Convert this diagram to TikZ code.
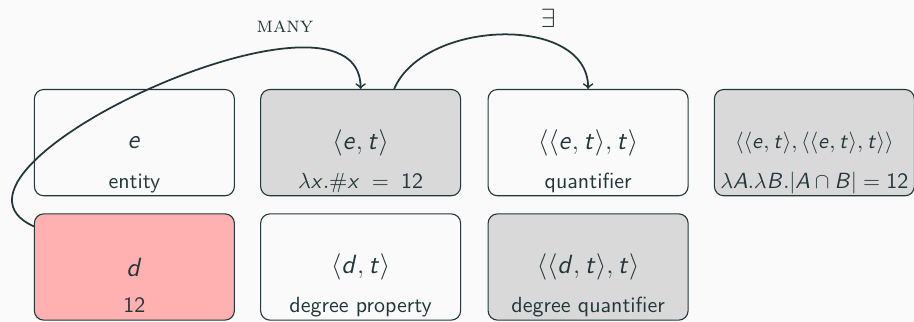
\documentclass[tikz,border=0pt]{standalone}
\usepackage{tikz}
\usetikzlibrary{arrows, positioning}

% sans letters in math, as on the slides
\DeclareSymbolFont{sfletters}{OT1}{cmss}{m}{sl}
\DeclareSymbolFont{sfdigits}{OT1}{cmss}{m}{n}
\DeclareMathSymbol{e}{\mathalpha}{sfletters}{`e}
\DeclareMathSymbol{t}{\mathalpha}{sfletters}{`t}
\DeclareMathSymbol{d}{\mathalpha}{sfletters}{`d}
\DeclareMathSymbol{x}{\mathalpha}{sfletters}{`x}
\DeclareMathSymbol{A}{\mathalpha}{sfletters}{`A}
\DeclareMathSymbol{B}{\mathalpha}{sfletters}{`B}
\DeclareMathSymbol{1}{\mathalpha}{sfdigits}{`1}
\DeclareMathSymbol{2}{\mathalpha}{sfdigits}{`2}
\renewcommand{\familydefault}{\sfdefault}

\definecolor{fgcol}{HTML}{23373B}
\definecolor{bgcol}{HTML}{FAFAFA}
\definecolor{shade}{HTML}{D9D9D9}
\definecolor{hotred}{HTML}{FFB0B0}

\begin{document}
\begin{tikzpicture}[
    box/.style={rectangle, draw=fgcol, line width=0.5pt, rounded corners=0.15cm, minimum width=3.2cm, minimum height=1.7cm, inner sep=0pt, text=fgcol, font=\large},
    plain/.style={box, fill=bgcol},
    shaded/.style={box, fill=shade},
    hotbox/.style={box, fill=hotred},
    caption/.style={anchor=base, inner sep=0pt, text=fgcol, font=\normalsize},
    tag/.style={text=fgcol, font=\normalsize},
    arrow/.style={thick, ->, >=to, color=fgcol}
]

\path[use as bounding box, fill=bgcol] (0,0) rectangle (14.624,5.152);

\node[plain] (e) at (2.15, 2.87) {$e$};
\node[shaded] (et) at (5.77, 2.87) {$\langle e, t\rangle$};
\node[plain] (q) at (9.41, 2.87) {$\langle\langle e, t\rangle, t\rangle$};
\node[shaded, font=\normalsize] (gq) at (13.03, 2.87) {$\langle\langle e, t\rangle, \langle\langle e, t\rangle, t\rangle\rangle$};

\node[caption] (e-cap) at ([yshift=-0.73cm]e.center) {entity};
\node[caption] (et-cap) at ([yshift=-0.73cm]et.center) {$\lambda x.\#x \;=\; 12$};
\node[caption] (q-cap) at ([yshift=-0.73cm]q.center) {quantifier};
\node[caption] (gq-cap) at ([yshift=-0.73cm]gq.center) {$\lambda A.\lambda B.|A\cap B| = 12$};

\node[hotbox] (d) at (2.15, 0.88) {$d$};
\node[plain] (dt) at (5.77, 0.88) {$\langle d, t\rangle$};
\node[shaded] (dq) at (9.41, 0.88) {$\langle\langle d, t\rangle, t\rangle$};

\node[caption] (d-cap) at ([yshift=-0.73cm]d.center) {12};
\node[caption] (dt-cap) at ([yshift=-0.73cm]dt.center) {degree property};
\node[caption] (dq-cap) at ([yshift=-0.73cm]dq.center) {degree quantifier};

\draw[arrow] (d.158) .. controls +(-2.0,0.9) and +(0,2.05) .. (et.north);
\draw[arrow] (et.58) .. controls +(0.48,1.12) and +(0,1.2) .. (q.north);

\node[tag, font=\rmfamily\scshape] (many) at (4.56, 4.72) {many};
\node[tag, font=\large] (exists) at (8.77, 4.86) {$\exists$};

\end{tikzpicture}
\end{document}
